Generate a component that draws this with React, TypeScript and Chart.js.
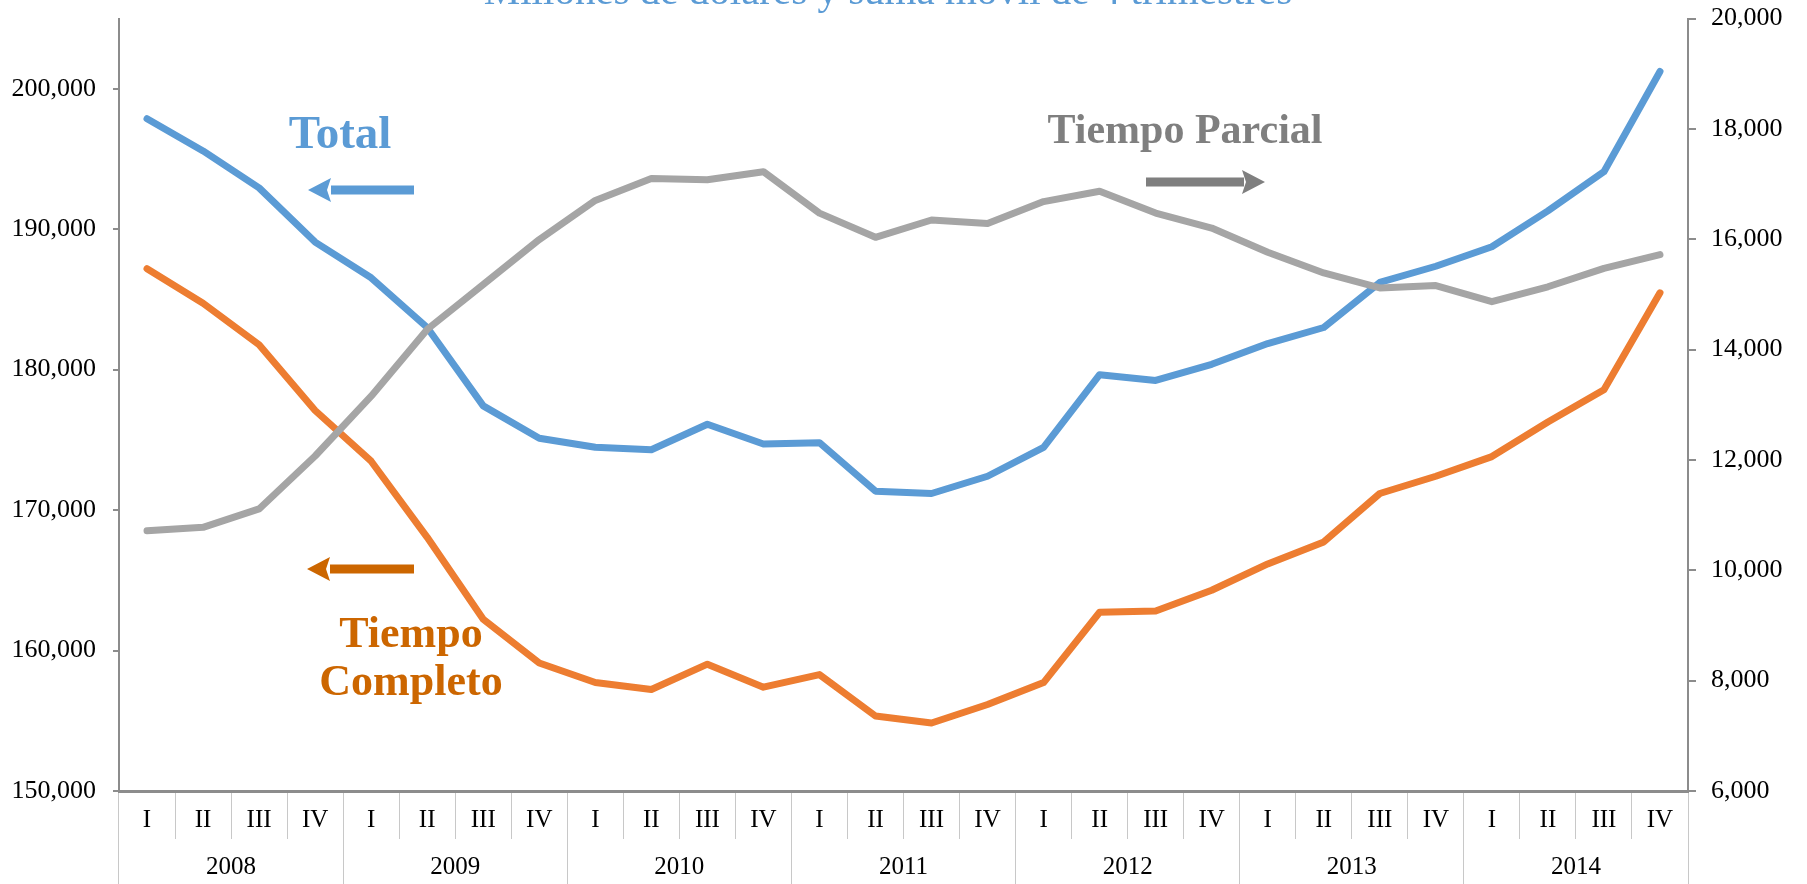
import React, { useEffect, useRef } from 'react';
import { Chart, registerables } from 'chart.js';

Chart.register(...registerables);

const quarterLabels = [
  'I', 'II', 'III', 'IV', 'I', 'II', 'III', 'IV', 'I', 'II', 'III', 'IV', 'I', 'II',
  'III', 'IV', 'I', 'II', 'III', 'IV', 'I', 'II', 'III', 'IV', 'I', 'II', 'III', 'IV',
];
const yearLabels = ['2008', '2009', '2010', '2011', '2012', '2013', '2014'];

const leftTicks = [150000, 160000, 170000, 180000, 190000, 200000];
const rightTicks = [6000, 8000, 10000, 12000, 14000, 16000, 18000, 20000];

const totalValues = [
  197865, 195570, 192940, 189080, 186540, 183000, 177420, 175120, 174470, 174300,
  176110, 174710, 174800, 171350, 171180, 172410, 174470, 179640, 179230, 180380,
  181860, 183000, 186210, 187360, 188750, 191300, 194090, 201230,
];
const completoValues = [
  187190, 184730, 181770, 177090, 173480, 168060, 162230, 159110, 157720, 157230,
  159030, 157390, 158290, 155340, 154840, 156160, 157720, 162730, 162810, 164290,
  166170, 167730, 171180, 172410, 173810, 176270, 178570, 185470,
];
const parcialValues = [
  10715, 10778, 11112, 12071, 13156, 14366, 15180, 15994, 16703, 17099,
  17078, 17224, 16473, 16035, 16348, 16286, 16682, 16870, 16473, 16202,
  15764, 15389, 15117, 15159, 14867, 15138, 15472, 15722,
];

const titleText = 'Millones de dólares y suma móvil de 4 trimestres';
const SERIF = "'Liberation Serif', 'DejaVu Serif', 'Times New Roman', serif";

const BLUE = '#5B9BD5';
const ORANGE = '#ED7D31';
const GRAY = '#A5A5A5';
const AXIS = '#8C8C8C';
const SEP = '#C8C8C8';

type Note = { lines: string[]; x: number; y: number; lh: number; size: number; color: string };
type Arrow = { x1: number; x2: number; y: number; color: string };

const notes: Note[] = [
  { lines: ['Total'], x: 340, y: 148, lh: 0, size: 47, color: BLUE },
  { lines: ['Tiempo Parcial'], x: 1185, y: 143, lh: 0, size: 42, color: '#7F7F7F' },
  { lines: ['Tiempo', 'Completo'], x: 411, y: 647, lh: 48, size: 44, color: '#CC6600' },
];
const arrows: Arrow[] = [
  { x1: 412, x2: 308, y: 190, color: BLUE },
  { x1: 1146, x2: 1265, y: 182, color: '#7F7F7F' },
  { x1: 412, x2: 307, y: 569, color: '#CC6600' },
];

const annotationPlugin = {
  id: 'annotationsDraw',
  afterDraw(chart: any) {
    const ctx = chart.ctx as CanvasRenderingContext2D;
    ctx.save();
    ctx.font = `41px ${SERIF}`;
    ctx.fillStyle = BLUE;
    ctx.textAlign = 'center';
    ctx.textBaseline = 'alphabetic';
    ctx.fillText(titleText, 888, 4);

    for (const n of notes) {
      ctx.font = `bold ${n.size}px ${SERIF}`;
      ctx.fillStyle = n.color;
      n.lines.forEach((t, i) => ctx.fillText(t, n.x, n.y + i * n.lh));
    }
    for (const a of arrows) {
      const dir = a.x2 > a.x1 ? 1 : -1;
      const headLen = 23;
      const headHalf = 12;
      const shaft = 4.5;
      const baseX = a.x2 - dir * headLen;
      ctx.fillStyle = a.color;
      ctx.beginPath();
      ctx.rect(Math.min(a.x1, baseX), a.y - shaft, Math.abs(baseX - a.x1) + 2, shaft * 2);
      ctx.fill();
      ctx.beginPath();
      ctx.moveTo(a.x2, a.y);
      ctx.lineTo(baseX, a.y - headHalf);
      ctx.lineTo(baseX + dir * 4, a.y);
      ctx.lineTo(baseX, a.y + headHalf);
      ctx.closePath();
      ctx.fill();
    }
    ctx.restore();
  },
};

const fmt = (v: any) => Number(v).toLocaleString('en-US');

export default function App() {
  const canvasRef = useRef<HTMLCanvasElement | null>(null);

  useEffect(() => {
    if (!canvasRef.current) return;
    const chart = new Chart(canvasRef.current, {
      type: 'line',
      data: {
        labels: quarterLabels,
        datasets: [
          { label: 'Tiempo Parcial', data: parcialValues, yAxisID: 'y2', borderColor: GRAY, order: 0 },
          { label: 'Total', data: totalValues, yAxisID: 'y', borderColor: BLUE, order: 1 },
          { label: 'Tiempo Completo', data: completoValues, yAxisID: 'y', borderColor: ORANGE, order: 2 },
        ],
      },
      options: {
        animation: false,
        responsive: false,
        maintainAspectRatio: false,
        devicePixelRatio: 1,
        elements: {
          line: { borderWidth: 7, tension: 0, borderCapStyle: 'round', borderJoinStyle: 'round', fill: false },
          point: { radius: 0, hoverRadius: 0 },
        },
        layout: { padding: { top: 18.5, left: 0, right: 0, bottom: 0 } },
        plugins: {
          legend: { display: false },
          title: { display: false },
          tooltip: { enabled: false },
        },
        scales: {
          x: {
            type: 'category',
            position: 'bottom',
            offset: true,
            grid: {
              display: true,
              offset: true,
              drawOnChartArea: false,
              drawTicks: true,
              tickLength: 48,
              color: SEP,
              lineWidth: 1,
            },
            border: { display: true, color: AXIS, width: 3 },
            ticks: {
              autoSkip: false,
              maxRotation: 0,
              minRotation: 0,
              padding: -34,
              color: '#000',
              font: { family: SERIF, size: 25 },
            },
            afterFit: (s: any) => { s.height = 48; s.paddingLeft = 0; s.paddingRight = 0; },
          },
          x2: {
            type: 'category',
            position: 'bottom',
            labels: yearLabels,
            offset: true,
            grid: {
              display: true,
              offset: true,
              drawOnChartArea: false,
              drawTicks: true,
              tickLength: 45,
              color: SEP,
              lineWidth: 1,
            },
            border: { display: false },
            ticks: {
              autoSkip: false,
              maxRotation: 0,
              minRotation: 0,
              padding: -32,
              color: '#000',
              font: { family: SERIF, size: 25 },
            },
            afterFit: (s: any) => { s.height = 45; s.paddingLeft = 0; s.paddingRight = 0; },
          },
          y: {
            type: 'linear',
            position: 'left',
            min: 150000,
            max: 205000,
            grid: {
              drawOnChartArea: false,
              drawTicks: true,
              tickLength: 6,
              color: AXIS,
              lineWidth: 2,
            },
            border: { display: true, color: AXIS, width: 2 },
            ticks: {
              autoSkip: false,
              padding: 17,
              color: '#000',
              font: { family: SERIF, size: 26 },
              callback: fmt,
            },
            afterBuildTicks: (s: any) => {
              s.ticks = leftTicks.map((v) => ({ value: v }));
            },
            afterFit: (s: any) => { s.width = 119; s.paddingTop = 0; s.paddingBottom = 0; },
          },
          y2: {
            type: 'linear',
            position: 'right',
            min: 6000,
            max: 20000,
            grid: {
              drawOnChartArea: false,
              drawTicks: true,
              tickLength: 8,
              color: AXIS,
              lineWidth: 2,
            },
            border: { display: true, color: AXIS, width: 2 },
            ticks: {
              autoSkip: false,
              padding: 15,
              color: '#000',
              font: { family: SERIF, size: 26 },
              callback: fmt,
            },
            afterBuildTicks: (s: any) => {
              s.ticks = rightTicks.map((v) => ({ value: v }));
            },
            afterFit: (s: any) => { s.width = 119; s.paddingTop = 0; s.paddingBottom = 0; },
          },
        },
      },
      plugins: [annotationPlugin],
    } as any);
    return () => chart.destroy();
  }, []);

  return (
    <div style={{ position: 'fixed', left: 0, top: 0, width: 1807, height: 884, background: '#fff' }}>
      <canvas ref={canvasRef} width={1807} height={884} style={{ width: 1807, height: 884, display: 'block' }} />
    </div>
  );
}
